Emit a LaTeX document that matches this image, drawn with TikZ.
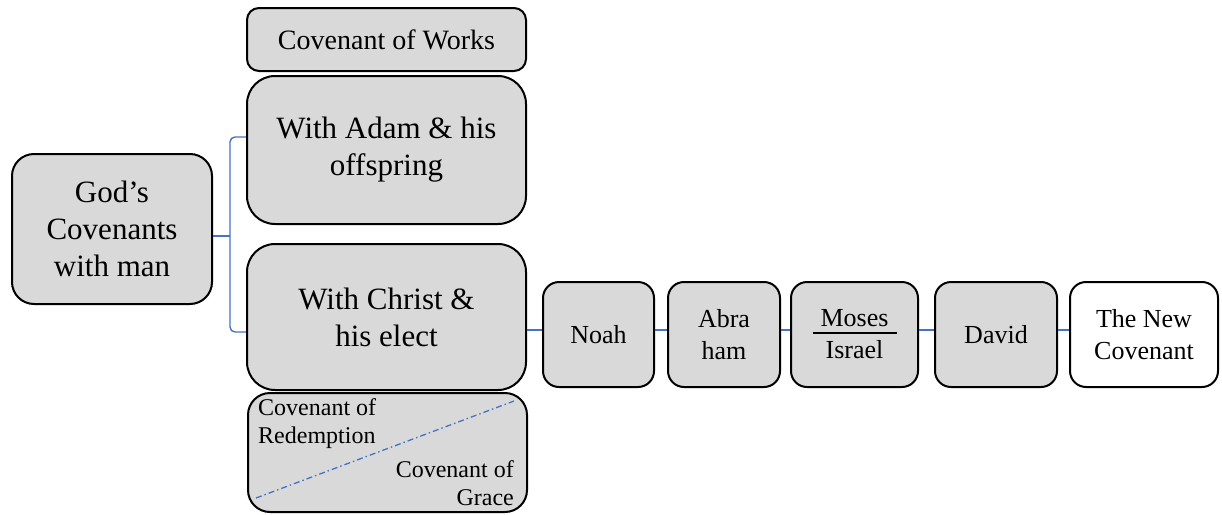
\documentclass[tikz,border=0pt]{standalone}
\usepackage{fontspec}
\setmainfont{Liberation Serif}
\definecolor{boxgray}{HTML}{D9D9D9}
\definecolor{linkblue}{HTML}{4472C4}
\begin{document}
\begin{tikzpicture}[x=1pt,y=-1pt,
  box/.style={draw=black,line width=2pt,fill=boxgray,align=center,inner sep=0pt,rounded corners=#1},
  box/.default=16pt,
  bigtext/.style={font=\fontsize{31}{37}\selectfont},
  midtext/.style={font=\fontsize{28}{33}\selectfont},
  smalltext/.style={font=\fontsize{26}{32}\selectfont},
  tinytext/.style={font=\fontsize{24}{28}\selectfont,inner sep=0pt},
  conn/.style={draw=linkblue,line width=1.4pt}]
\useasboundingbox (0,0) rectangle (1222,514);
\node[box=22pt,bigtext,minimum width=200pt,minimum height=150pt] (gods) at (112,229) {God’s\\Covenants\\with man};
\node[box=12pt,midtext,minimum width=279pt,minimum height=63pt] (works) at (386.5,39.5) {Covenant of Works};
\node[box=28pt,bigtext,minimum width=279pt,minimum height=148pt] (adam) at (386.5,150) {With Adam \& his\\offspring};
\node[box=28pt,bigtext,minimum width=279pt,minimum height=146pt] (christ) at (386.5,317) {With Christ \&\\his elect};
\node[box=22pt,minimum width=279pt,minimum height=119pt] (redemp) at (387.5,452.5) {};
\node[tinytext,anchor=north west,align=left] (redtext) at (258,398) {Covenant of\\Redemption};
\node[tinytext,anchor=south east,align=right] (gracetext) at (514,506) {Covenant of\\Grace};
\draw[draw=linkblue,line width=1.3pt,dash pattern=on 6pt off 3pt on 1.5pt off 3pt] ([shift={(9pt,-45.5pt)}]redemp.west) -- ([shift={(-14pt,-9pt)}]redemp.north east);
\node[box,smalltext,minimum width=111pt,minimum height=105pt] (noah) at (598.5,334.5) {Noah};
\node[box,smalltext,minimum width=112pt,minimum height=105pt] (abra) at (724,334.5) {Abra\\ham};
\node[box,smalltext,minimum width=127pt,minimum height=105pt] (moses) at (854.5,334.5) {Moses\\Israel};
\node[box,smalltext,minimum width=122pt,minimum height=105pt] (david) at (996,334.5) {David};
\node[box,smalltext,fill=white,minimum width=148pt,minimum height=105pt] (newc) at (1144,334.5) {The New\\Covenant};
\draw[line width=1.3pt] ([shift={(-42pt,1.5pt)}]moses.center) -- ([shift={(42pt,1.5pt)}]moses.center);
\coordinate (brk) at (230,236);
\coordinate (ly) at (0,330);
\draw[conn,rounded corners=5pt] ([yshift=13pt]adam.west) -| (brk) |- ([yshift=-15pt]christ.west);
\draw[conn] (gods.east |- brk) -- (brk);
\draw[conn] (christ.east |- ly) -- (noah.west |- ly);
\draw[conn] (noah.east |- ly) -- (abra.west |- ly);
\draw[conn] (abra.east |- ly) -- (moses.west |- ly);
\draw[conn] (moses.east |- ly) -- (david.west |- ly);
\draw[conn] (david.east |- ly) -- (newc.west |- ly);
\end{tikzpicture}
\end{document}
